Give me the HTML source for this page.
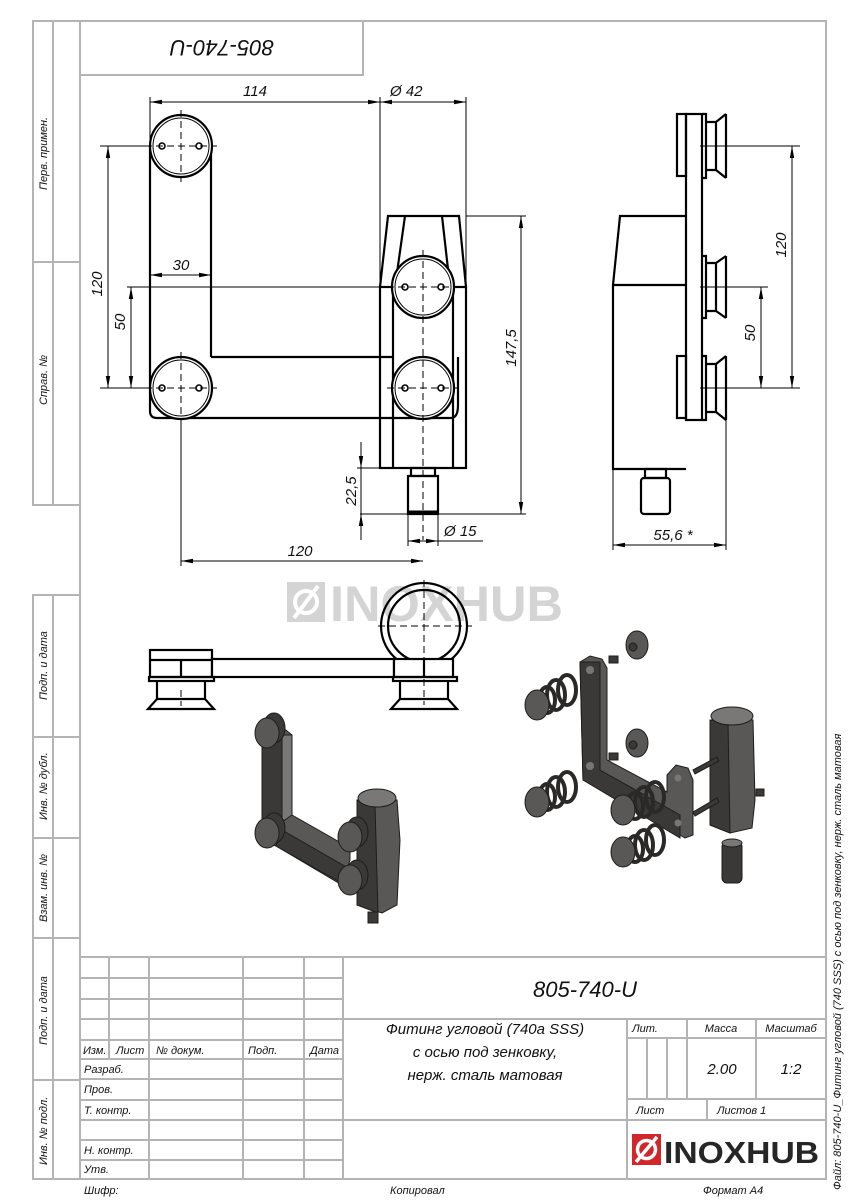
<!DOCTYPE html>
<html><head><meta charset="utf-8"><style>
html,body{margin:0;padding:0;background:#fff}
svg{display:block}
text{font-family:"Liberation Sans",sans-serif;font-style:italic;fill:#111}
.g{stroke:#b4b4b4;stroke-width:2;fill:none}
.o{stroke:#000;stroke-width:2.2;fill:none}
.t{stroke:#000;stroke-width:1;fill:none}
.c{stroke:#000;stroke-width:1;fill:none;stroke-dasharray:7 4}
.d{fill:#3a3938;stroke:#1e1d1c;stroke-width:1}
.m{fill:#5a5856;stroke:#1e1d1c;stroke-width:1}
.l{fill:#7a7876;stroke:#1e1d1c;stroke-width:1}
</style></head><body>
<svg width="848" height="1200" viewBox="0 0 848 1200" xmlns="http://www.w3.org/2000/svg">
<defs>
<marker id="a" viewBox="0 0 12 6" refX="12" refY="3" markerWidth="12" markerHeight="6" orient="auto-start-reverse" markerUnits="userSpaceOnUse"><path d="M0,0.8 L12,3 L0,5.2z" fill="#000"/></marker>
</defs>
<!-- frame -->
<rect x="80" y="21" width="746" height="1158" class="g"/>
<polyline points="80,21 33,21 33,505 80,505" class="g"/>
<line x1="53" y1="21" x2="53" y2="505" class="g"/>
<line x1="33" y1="262" x2="80" y2="262" class="g"/>
<polyline points="80,595 33,595 33,1179 80,1179" class="g"/>
<line x1="53" y1="595" x2="53" y2="1179" class="g"/>
<line x1="33" y1="737" x2="80" y2="737" class="g"/>
<line x1="33" y1="838" x2="80" y2="838" class="g"/>
<line x1="33" y1="938" x2="80" y2="938" class="g"/>
<line x1="33" y1="1080" x2="80" y2="1080" class="g"/>
<g font-size="11">
<text transform="translate(47,190) rotate(-90)">Перв. примен.</text>
<text transform="translate(47,405) rotate(-90)">Справ. №</text>
<text transform="translate(47,700) rotate(-90)">Подп. и дата</text>
<text transform="translate(47,820) rotate(-90)">Инв. № дубл.</text>
<text transform="translate(47,922) rotate(-90)">Взам. инв. №</text>
<text transform="translate(47,1045) rotate(-90)">Подп. и дата</text>
<text transform="translate(47,1165) rotate(-90)">Инв. № подл.</text>
<text transform="translate(841,1190) rotate(-90)">Файл: 805-740-U_Фитинг угловой (740 SSS) с осью под зенковку, нерж. сталь матовая</text>
</g>
<!-- top label box -->
<polyline points="80,75 363,75 363,21" class="g"/>
<text transform="translate(222,40) rotate(180)" font-size="22" text-anchor="middle">805-740-U</text>

<!-- title block -->
<line x1="80" y1="957" x2="826" y2="957" class="g"/>
<g class="g">
<line x1="109" y1="957" x2="109" y2="1059"/>
<line x1="149" y1="957" x2="149" y2="1179"/>
<line x1="243" y1="957" x2="243" y2="1179"/>
<line x1="304" y1="957" x2="304" y2="1179"/>
<line x1="343" y1="957" x2="343" y2="1179"/>
<line x1="80" y1="978" x2="343" y2="978"/>
<line x1="80" y1="999" x2="343" y2="999"/>
<line x1="80" y1="1019" x2="826" y2="1019"/>
<line x1="80" y1="1040" x2="343" y2="1040"/>
<line x1="80" y1="1059" x2="343" y2="1059"/>
<line x1="80" y1="1079" x2="343" y2="1079"/>
<line x1="80" y1="1100" x2="343" y2="1100"/>
<line x1="80" y1="1120" x2="826" y2="1120"/>
<line x1="80" y1="1140" x2="343" y2="1140"/>
<line x1="80" y1="1160" x2="343" y2="1160"/>
<line x1="627" y1="1019" x2="627" y2="1179"/>
<line x1="627" y1="1038" x2="826" y2="1038"/>
<line x1="627" y1="1099" x2="826" y2="1099"/>
<line x1="647" y1="1038" x2="647" y2="1099"/>
<line x1="667" y1="1038" x2="667" y2="1099"/>
<line x1="687" y1="1019" x2="687" y2="1099"/>
<line x1="756" y1="1019" x2="756" y2="1099"/>
<line x1="707" y1="1099" x2="707" y2="1120"/>
</g>
<g font-size="11">
<text x="83" y="1054">Изм.</text><text x="116" y="1054">Лист</text><text x="156" y="1054">№ докум.</text><text x="248" y="1054">Подп.</text><text x="310" y="1054">Дата</text>
<text x="84" y="1073">Разраб.</text><text x="84" y="1093">Пров.</text><text x="84" y="1114">Т. контр.</text>
<text x="84" y="1154">Н. контр.</text><text x="84" y="1173">Утв.</text>
<text x="84" y="1194">Шифр:</text><text x="390" y="1194">Копировал</text><text x="703" y="1194">Формат A4</text>
<text x="645" y="1032" text-anchor="middle">Лит.</text><text x="721" y="1032" text-anchor="middle">Масса</text><text x="791" y="1032" text-anchor="middle">Масштаб</text>
<text x="636" y="1114">Лист</text><text x="717" y="1114">Листов 1</text>
</g>
<text x="585" y="997" font-size="22" text-anchor="middle">805-740-U</text>
<g font-size="15" text-anchor="middle">
<text x="485" y="1034">Фитинг угловой (740a SSS)</text>
<text x="485" y="1057">с осью под зенковку,</text>
<text x="485" y="1080">нерж. сталь матовая</text>
<text x="722" y="1074">2.00</text><text x="791" y="1074">1:2</text>
</g>
<!-- logo -->
<rect x="632" y="1134" width="29" height="31" fill="#d3262b"/>
<circle cx="646.5" cy="1149.5" r="9" fill="none" stroke="#fff" stroke-width="3.5"/>
<line x1="636" y1="1162" x2="657" y2="1137" stroke="#fff" stroke-width="3.5"/>
<text x="664" y="1163" font-size="31" style="font-weight:bold;font-style:normal;fill:#262626" textLength="155" lengthAdjust="spacingAndGlyphs">INOXHUB</text>

<!-- watermark -->
<rect x="287" y="582" width="38" height="40" fill="#d4d4d4"/>
<circle cx="306" cy="602" r="11" fill="none" stroke="#fff" stroke-width="4"/>
<line x1="294" y1="618" x2="318" y2="586" stroke="#fff" stroke-width="4"/>
<text x="330" y="621" font-size="50" style="font-weight:bold;font-style:normal;fill:#d4d4d4" textLength="233" lengthAdjust="spacingAndGlyphs">INOXHUB</text>

<!-- FRONT VIEW -->
<g class="o">
<path d="M150,146 L150,411 Q150,418 157,418 L451,418 Q458,418 458,405 L458,357"/>
<line x1="211" y1="146" x2="211" y2="357"/>
<line x1="211" y1="357" x2="393" y2="357"/>
<rect x="380" y="287" width="86" height="181"/>
<polyline points="380,287 388,216 459,216 466,287"/>
<polyline points="405,216 395,287"/>
<polyline points="442,216 450,287"/>
<line x1="393" y1="287" x2="393" y2="468"/>
<line x1="453" y1="287" x2="453" y2="468"/>
<rect x="408" y="476" width="30" height="38"/>
<rect x="411" y="468" width="24" height="8"/>
<line x1="408" y1="512" x2="438" y2="512" stroke-width="3"/>
</g>
<g fill="#fff" stroke="#000" stroke-width="2.2">
<circle cx="181" cy="146" r="31"/><circle cx="181" cy="388" r="31"/>
<circle cx="423" cy="287" r="31"/><circle cx="423" cy="388" r="31"/>
</g>
<g class="t">
<circle cx="181" cy="146" r="28"/><circle cx="181" cy="388" r="28"/>
<circle cx="423" cy="287" r="28"/><circle cx="423" cy="388" r="28"/>
<g stroke-width="1.6"><circle cx="162" cy="146" r="3"/><circle cx="199" cy="146" r="3"/><circle cx="162" cy="388" r="3"/><circle cx="199" cy="388" r="3"/>
<circle cx="405" cy="287" r="3"/><circle cx="441" cy="287" r="3"/><circle cx="405" cy="388" r="3"/><circle cx="441" cy="388" r="3"/></g>
</g>
<g class="c">
<line x1="181" y1="110" x2="181" y2="182"/><line x1="145" y1="146" x2="217" y2="146"/>
<line x1="181" y1="352" x2="181" y2="424"/><line x1="145" y1="388" x2="217" y2="388"/>
<line x1="423" y1="250" x2="423" y2="540"/><line x1="387" y1="287" x2="459" y2="287"/>
<line x1="387" y1="388" x2="459" y2="388"/>
</g>
<!-- front dims -->
<g class="t">
<line x1="150" y1="97" x2="150" y2="146"/>
<line x1="380" y1="97" x2="380" y2="287"/>
<line x1="466" y1="97" x2="466" y2="287"/>
<line x1="150" y1="102" x2="380" y2="102" marker-start="url(#a)" marker-end="url(#a)"/>
<line x1="380" y1="102" x2="466" y2="102" marker-start="url(#a)" marker-end="url(#a)"/>
<line x1="100" y1="146" x2="150" y2="146"/>
<line x1="100" y1="388" x2="150" y2="388"/>
<line x1="127" y1="287" x2="392" y2="287"/>
<line x1="108" y1="146" x2="108" y2="388" marker-start="url(#a)" marker-end="url(#a)"/>
<line x1="131" y1="287" x2="131" y2="388" marker-start="url(#a)" marker-end="url(#a)"/>
<line x1="150" y1="275" x2="211" y2="275" marker-start="url(#a)" marker-end="url(#a)"/>
<line x1="466" y1="216" x2="526" y2="216"/>
<line x1="360" y1="514" x2="526" y2="514"/>
<line x1="521" y1="216" x2="521" y2="514" marker-start="url(#a)" marker-end="url(#a)"/>
<line x1="357" y1="468" x2="380" y2="468"/>
<line x1="361" y1="442" x2="361" y2="468" marker-end="url(#a)"/>
<line x1="361" y1="540" x2="361" y2="514" marker-end="url(#a)"/>
<line x1="361" y1="468" x2="361" y2="514"/>
<line x1="408" y1="514" x2="408" y2="546"/>
<line x1="438" y1="514" x2="438" y2="546"/>
<line x1="408" y1="541" x2="438" y2="541" marker-start="url(#a)" marker-end="url(#a)"/>
<line x1="438" y1="541" x2="483" y2="541"/>
<line x1="181" y1="418" x2="181" y2="566"/>
<line x1="181" y1="561" x2="423" y2="561" marker-start="url(#a)" marker-end="url(#a)"/>
</g>
<g font-size="15">
<text x="255" y="96" text-anchor="middle">114</text>
<text x="390" y="96">Ø 42</text>
<text x="181" y="270" text-anchor="middle">30</text>
<text transform="translate(102,284) rotate(-90)" text-anchor="middle">120</text>
<text transform="translate(125,322) rotate(-90)" text-anchor="middle">50</text>
<text transform="translate(516,348) rotate(-90)" text-anchor="middle">147,5</text>
<text transform="translate(356,491) rotate(-90)" text-anchor="middle">22,5</text>
<text x="444" y="536">Ø 15</text>
<text x="300" y="556" text-anchor="middle">120</text>
</g>

<!-- SIDE VIEW -->
<g class="o">
<rect x="686" y="114" width="16" height="306"/>
<rect x="677" y="114" width="9" height="62"/>
<rect x="677" y="356" width="9" height="62"/>
<polyline points="686,216 620,216 613,285 613,469 686,469"/>
<line x1="613" y1="285" x2="686" y2="285"/>
<rect x="641" y="478" width="29" height="36" rx="3"/>
<rect x="645" y="469" width="21" height="9"/>
<path d="M702,114 h4 v64 h-4 M706,122 h10 v48 h-10 M716,122 L726,114 M716,170 L726,178 M726,114 v64"/>
<path d="M702,256 h4 v62 h-4 M706,263 h10 v48 h-10 M716,263 L726,256 M716,311 L726,318 M726,256 v62"/>
<path d="M702,356 h4 v64 h-4 M706,364 h10 v48 h-10 M716,364 L726,356 M716,412 L726,420 M726,356 v64"/>
</g>
<g class="t">
<line x1="700" y1="146" x2="800" y2="146"/>
<line x1="700" y1="287" x2="768" y2="287"/>
<line x1="700" y1="388" x2="800" y2="388"/>
<line x1="792" y1="146" x2="792" y2="388" marker-start="url(#a)" marker-end="url(#a)"/>
<line x1="761" y1="287" x2="761" y2="388" marker-start="url(#a)" marker-end="url(#a)"/>
<line x1="613" y1="469" x2="613" y2="550"/>
<line x1="726" y1="420" x2="726" y2="550"/>
<line x1="613" y1="545" x2="726" y2="545" marker-start="url(#a)" marker-end="url(#a)"/>
</g>
<g font-size="15">
<text transform="translate(786,245) rotate(-90)" text-anchor="middle">120</text>
<text transform="translate(755,333) rotate(-90)" text-anchor="middle">50</text>
<text x="673" y="540" text-anchor="middle">55,6 *</text>
</g>

<!-- TOP VIEW -->
<g class="o" stroke-width="2">
<circle cx="424" cy="626" r="43"/>
<circle cx="424" cy="626" r="36"/>
<rect x="150" y="650" width="62" height="27" fill="#fff"/>
<line x1="150" y1="660" x2="212" y2="660"/>
<line x1="181" y1="660" x2="181" y2="677"/>
<rect x="212" y="659" width="182" height="18" fill="#fff"/>
<rect x="394" y="659" width="59" height="18" fill="#fff"/>
<line x1="424" y1="659" x2="424" y2="677"/>
<rect x="149" y="677" width="65" height="4"/>
<rect x="393" y="677" width="64" height="4"/>
<path d="M157,681 v18 l-9,10 h66 l-9,-10 v-18"/>
<line x1="157" y1="699" x2="205" y2="699"/>
<path d="M400,681 v18 l-9,10 h66 l-9,-10 v-18"/>
<line x1="400" y1="699" x2="448" y2="699"/>
</g>
<g class="c">
<line x1="424" y1="580" x2="424" y2="705"/><line x1="378" y1="626" x2="472" y2="626"/>
<line x1="181" y1="690" x2="181" y2="706"/>
</g>

<!-- ISO ASSEMBLED -->
<path class="m" d="M262,737 L282,727 L292,735 L292,815 L350,848 L350,860 L342,885 L276,846 L262,840z"/>
<path class="d" d="M262,737 L282,735 L282,830 L262,822z"/>
<path class="d" d="M282,830 L348,868 L345,885 L276,846z"/>
<path class="l" d="M282,735 L292,735 L292,815 L282,822z"/>
<path class="m" d="M357,800 L397,800 L400,840 L397,905 L382,913 L357,905z"/>
<path class="d" d="M357,800 L375,805 L378,913 L357,905z"/>
<ellipse class="l" cx="377" cy="798" rx="19" ry="9"/>
<rect class="d" x="368" y="912" width="10" height="11"/>
<g>
<ellipse class="d" cx="274" cy="728" rx="11" ry="15"/><ellipse class="m" cx="267" cy="733" rx="12" ry="15"/>
<ellipse class="d" cx="274" cy="828" rx="11" ry="15"/><ellipse class="m" cx="267" cy="833" rx="12" ry="15"/>
<ellipse class="d" cx="357" cy="832" rx="11" ry="15"/><ellipse class="m" cx="350" cy="837" rx="12" ry="15"/>
<ellipse class="d" cx="357" cy="875" rx="11" ry="15"/><ellipse class="m" cx="350" cy="880" rx="12" ry="15"/>
</g>

<!-- ISO EXPLODED -->
<path class="m" d="M580,662 L590,656 L602,659 L607,668 L607,760 L667,792 L667,775 L676,765 L688,768 L693,780 L693,835 L685,838 L583,780z"/>
<path class="d" d="M580,662 L600,662 L600,770 L680,815 L680,838 L583,780z"/>
<circle cx="590" cy="670" r="4" fill="#777"/><circle cx="590" cy="766" r="4" fill="#777"/>
<circle cx="678" cy="778" r="3.5" fill="#777"/><circle cx="678" cy="823" r="3.5" fill="#777"/>
<path class="m" d="M710,720 L753,720 L755,800 L752,828 L730,833 L710,825z"/>
<path class="d" d="M710,720 L728,722 L730,833 L710,825z"/>
<ellipse class="l" cx="732" cy="716" rx="21" ry="9"/>
<rect class="d" x="722" y="842" width="20" height="41" rx="5"/>
<ellipse class="l" cx="732" cy="843" rx="10" ry="4"/>
<g class="d"><path d="M693,770 L717,757 L719,761 L695,774z"/><path d="M693,812 L717,798 L719,802 L695,816z"/>
<rect x="609" y="656" width="9" height="7"/><rect x="609" y="753" width="9" height="7"/><rect x="756" y="789" width="8" height="7"/></g>
<ellipse class="m" cx="637" cy="645" rx="11" ry="14"/><ellipse class="d" cx="633" cy="647" rx="4" ry="4"/>
<ellipse class="m" cx="637" cy="743" rx="11" ry="14"/><ellipse class="d" cx="633" cy="745" rx="4" ry="4"/>
<g fill="none" stroke="#2a2928" stroke-width="4">
<ellipse cx="567" cy="690" rx="9" ry="15"/><ellipse cx="556" cy="695" rx="9" ry="15"/><ellipse cx="547" cy="700" rx="8" ry="13"/>
<ellipse cx="567" cy="787" rx="9" ry="15"/><ellipse cx="556" cy="792" rx="9" ry="15"/><ellipse cx="547" cy="797" rx="8" ry="13"/>
<ellipse cx="655" cy="797" rx="9" ry="15"/><ellipse cx="644" cy="802" rx="9" ry="15"/><ellipse cx="635" cy="806" rx="8" ry="13"/>
<ellipse cx="655" cy="840" rx="9" ry="15"/><ellipse cx="644" cy="845" rx="9" ry="15"/><ellipse cx="635" cy="849" rx="8" ry="13"/>
</g>
<ellipse class="m" cx="537" cy="705" rx="12" ry="15"/>
<ellipse class="m" cx="537" cy="802" rx="12" ry="15"/>
<ellipse class="m" cx="623" cy="810" rx="12" ry="15"/>
<ellipse class="m" cx="623" cy="852" rx="12" ry="15"/>
</svg>
</body></html>
